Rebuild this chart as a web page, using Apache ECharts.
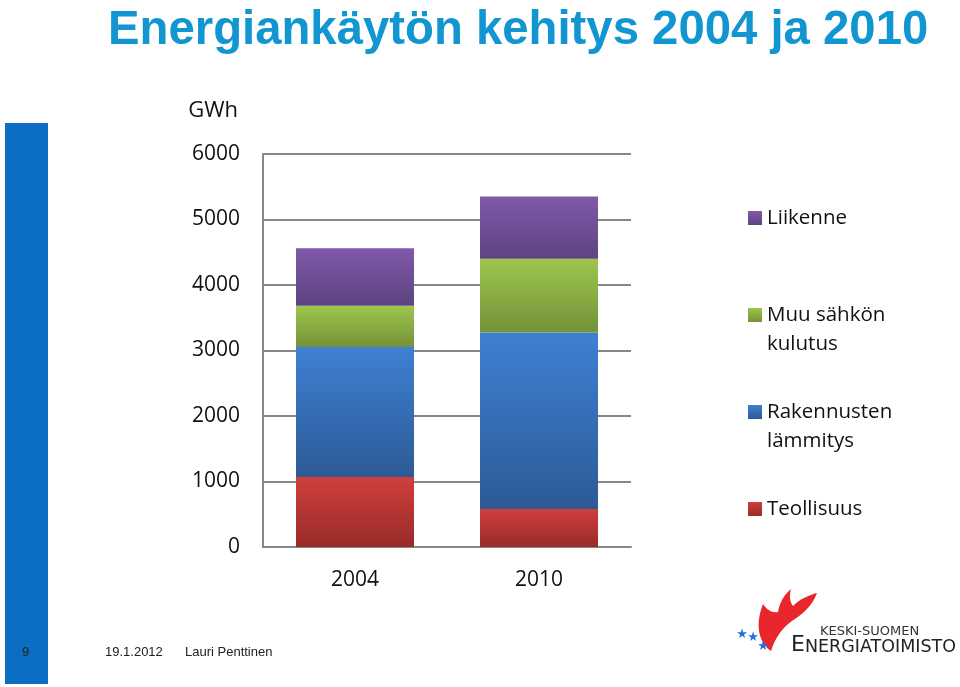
<!DOCTYPE html>
<html>
<head>
<meta charset="utf-8">
<script src="https://cdn.jsdelivr.net/npm/echarts@6/dist/echarts.min.js"></script>
<style>
html,body{margin:0;padding:0;background:#fff;}
#chart{width:960px;height:687px;}
</style>
</head>
<body>
<div id="chart"></div>
<script>
// ---- data ----
var categories = ['2004', '2010'];
var teollisuus = [1070, 580];
var rakennusten = [1985, 2695];
var muuSahko = [630, 1125];
var liikenne = [875, 950];
var yTicks = [0, 1000, 2000, 3000, 4000, 5000, 6000];
var seriesNames = ['Teollisuus', 'Rakennusten lämmitys', 'Muu sähkön kulutus', 'Liikenne'];
var legendLabels = {
  'Liikenne': 'Liikenne',
  'Muu sähkön kulutus': ' \nMuu sähkön\nkulutus',
  'Rakennusten lämmitys': ' \nRakennusten\nlämmitys',
  'Teollisuus': 'Teollisuus'
};

var FONT = '"Open Sans", "DejaVu Sans", sans-serif';

function grad(top, bottom) {
  return new echarts.graphic.LinearGradient(0, 0, 0, 1, [
    {offset: 0, color: top}, {offset: 1, color: bottom}
  ]);
}
var colors = {
  'Teollisuus': grad('#cf3f3c', '#982b29'),
  'Rakennusten lämmitys': grad('#3e80d3', '#2d5a96'),
  'Muu sähkön kulutus': grad('#9dc64c', '#74923a'),
  'Liikenne': grad('#8059a9', '#5d4481')
};
var values = {
  'Teollisuus': teollisuus,
  'Rakennusten lämmitys': rakennusten,
  'Muu sähkön kulutus': muuSahko,
  'Liikenne': liikenne
};

// logo flame shape
try {
  var Flame = echarts.graphic.extendPath('M771 651 C760 643 754 627 763 604 C767 610 772 613 778 612 C780 601 785 594 791 589 C789 596 790 602 793 606 C800 599 809 595 817 593 C812 606 803 614 792 621 C782 628 775 638 771 651 Z', {});
  echarts.graphic.registerShape('flame', Flame);
} catch (e) {}

function legendFor(name, top) {
  return {
    data: [name],
    orient: 'vertical',
    left: 748,
    top: top,
    padding: 0,
    icon: 'rect',
    itemWidth: 14,
    itemHeight: 14,
    selectedMode: false,
    formatter: function (n) { return legendLabels[n]; },
    textStyle: {fontFamily: FONT, fontSize: 20.5, color: '#111', lineHeight: 29}
  };
}

function star(x, y) {
  return {type: 'text', x: x, y: y, style: {text: '★', font: '13px "DejaVu Sans"', fill: '#1f6fe0', align: 'center', verticalAlign: 'middle'}};
}

var chart = echarts.init(document.getElementById('chart'), null, {renderer: 'canvas'});
var option = {
  animation: false,
  backgroundColor: '#ffffff',
  title: {
    text: 'Energiankäytön kehitys 2004 ja 2010',
    left: 103,
    top: 2,
    textStyle: {
      fontFamily: '"Liberation Sans", Arial, sans-serif',
      fontWeight: 'bold',
      fontSize: 47.3,
      color: '#1296d1'
    }
  },
  legend: [
    legendFor('Liikenne', 203.5),
    legendFor('Muu sähkön kulutus', 271.5),
    legendFor('Rakennusten lämmitys', 368.5),
    legendFor('Teollisuus', 494.5)
  ],
  grid: {left: 263, right: 329, top: 154, bottom: 140, containLabel: false},
  xAxis: {
    type: 'category',
    data: categories,
    axisLine: {show: true, lineStyle: {color: '#878787', width: 2}},
    axisTick: {show: false},
    axisLabel: {fontFamily: FONT, fontSize: 21, color: '#111', margin: 23}
  },
  yAxis: {
    type: 'value',
    min: yTicks[0],
    max: yTicks[yTicks.length - 1],
    interval: yTicks[1] - yTicks[0],
    name: 'GWh',
    nameLocation: 'end',
    nameGap: 43,
    nameTextStyle: {fontFamily: FONT, fontSize: 22, color: '#111', align: 'right', verticalAlign: 'middle', padding: [0, 25, 0, 0]},
    axisLine: {show: true, lineStyle: {color: '#878787', width: 2}},
    axisTick: {show: false},
    splitLine: {show: true, lineStyle: {color: '#878787', width: 2}},
    axisLabel: {fontFamily: FONT, fontSize: 21, color: '#111', margin: 23, padding: [6, 0, 0, 0], formatter: function (v) { return String(v); }}
  },
  series: seriesNames.map(function (n) {
    return {
      name: n,
      type: 'bar',
      stack: 'total',
      barWidth: 118,
      data: values[n],
      itemStyle: {color: colors[n]}
    };
  }),
  graphic: [
    {type: 'rect', left: 5, top: 123, shape: {width: 43, height: 561}, style: {fill: '#0a6fc2'}, z: -1},
    {type: 'text', left: 22, top: 646, style: {text: '9', font: '13px "Liberation Sans", Arial, sans-serif', fill: '#222'}},
    {type: 'text', left: 105, top: 646, style: {text: '19.1.2012', font: '13px "Liberation Sans", Arial, sans-serif', fill: '#222'}},
    {type: 'text', left: 185, top: 646, style: {text: 'Lauri Penttinen', font: '13px "Liberation Sans", Arial, sans-serif', fill: '#222'}},
    {type: 'flame', style: {fill: '#e8262b'}},
    star(742, 634.5),
    star(753, 638),
    star(763, 647),
    {type: 'text', x: 820, y: 625, style: {text: 'KESKI-SUOMEN', font: '13px "DejaVu Sans"', fill: '#333'}},
    {type: 'text', x: 791, y: 634, style: {
      text: '{b|E}{s|NERGIATOIMISTO}',
      rich: {
        b: {font: '22px "DejaVu Sans"', fill: '#222', verticalAlign: 'bottom'},
        s: {font: '17.5px "DejaVu Sans"', fill: '#222', verticalAlign: 'bottom'}
      }
    }}
  ]
};
chart.setOption(option);
</script>
</body>
</html>
